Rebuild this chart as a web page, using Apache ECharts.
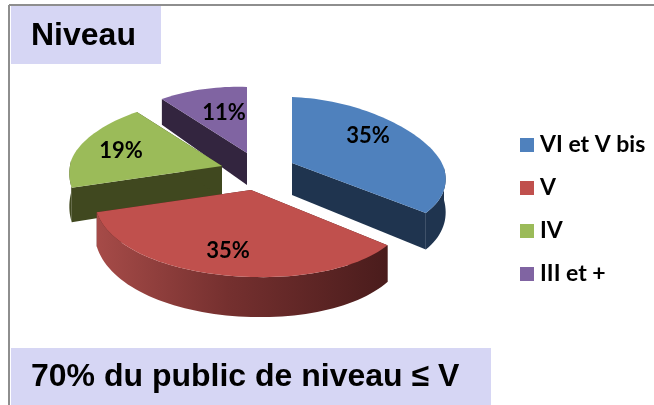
<!DOCTYPE html>
<html>
<head>
<meta charset="utf-8">
<title>Niveau</title>
<script src="https://cdn.jsdelivr.net/npm/echarts@6/dist/echarts.min.js"></script>
<style>
html,body{margin:0;padding:0;background:#fff;}
#main{width:654px;height:405px;}
</style>
</head>
<body>
<div id="main"></div>
<script>
// data
var categories = ['VI et V bis', 'V', 'IV', 'III et +'];
var values = [35, 35, 19, 11];
var headline = 'Niveau';
var conclusion = '70% du public de niveau \u2264 V';

// look of each slice, same order as categories
var topColors = ['#4F81BD', '#C0504D', '#9BBB59', '#8064A2'];
var sideColors = ['#1F344F', '#4D1E1D', '#40481F', '#33253F'];
var paintOrder = [3, 4, 2, 1];
var apexes = [[292, 163], [251, 190], [222, 166], [247, 153]]; // exploded slice tips
var labelShift = [[76, -27], [-23, 61], [-101, -15], [-23, -40]];
var rx = [152, 155, 151, 151];
var ryFront = [78, 87, 86, 86];

// fake 3d projection
var ryBack = 66, persp = 0.15, tilt = 5, depth = 32;
var labelFont = 'bold 22px Lato';

var total = values.reduce(function(a, b) { return a + b; }, 0);
var starts = [];
values.reduce(function(sum, v, i) { starts[i] = sum; return sum + v; }, 0);

function rim(idx, deg, lower) {
	var apex = apexes[idx];
	var t = deg * Math.PI / 180;
	var u = Math.sin(t), v = -Math.cos(t);
	var x = apex[0] + u * rx[idx] * (1 + persp * v);
	var y = apex[1] + v * (v > 0 ? ryFront[idx] : ryBack) + tilt * u;
	if (lower) y += depth * (1 + 0.25 * v);
	return [x, y];
}

function arcPoints(idx, from, to, lower) {
	var pts = [];
	var n = Math.max(2, Math.ceil(Math.abs(to - from) / 2));
	for (var i = 0; i <= n; i++) {
		pts.push(rim(idx, from + (to - from) * i / n, lower));
	}
	return pts;
}

function makeRender(idx) {
	return function(params, api) {
		var from = starts[idx] / total * 360;
		var to = from + api.value(0) / total * 360;
		var apex = apexes[idx];
		var apexLow = [apex[0], apex[1] + depth];
		var side = {fill: sideColors[idx]};
		var kids = [];
		// radial cuts
		[from, to].forEach(function(deg) {
			kids.push({type: 'polygon', shape: {points: [apex, rim(idx, deg), rim(idx, deg, true), apexLow]}, style: side});
		});
		// outer wall, only the front half shows
		var a = Math.max(from, 90), b = Math.min(to, 270);
		if (b > a) {
			var wall = arcPoints(idx, a, b).concat(arcPoints(idx, b, a, true));
			var wallStyle = idx == 1 ? {fill: new echarts.graphic.LinearGradient(1, 0, 0, 0, [
				{offset: 0, color: '#4A1C1C'},
				{offset: 0.55, color: '#75302F'},
				{offset: 1, color: '#A64B48'}
			])} : side;
			kids.push({type: 'polygon', shape: {points: wall}, style: wallStyle});
		}
		kids.push({type: 'polygon', shape: {points: [apex].concat(arcPoints(idx, from, to))}, style: {fill: topColors[idx]}});
		kids.push({type: 'text', style: {
			text: Math.round(api.value(0)) + '%',
			x: apex[0] + labelShift[idx][0], y: apex[1] + labelShift[idx][1],
			font: labelFont, fill: '#000', align: 'center', verticalAlign: 'middle'
		}});
		return {type: 'group', children: kids};
	};
}

var seriesList = categories.map(function(name, i) {
	return {
		name: name,
		type: 'custom',
		coordinateSystem: 'none',
		z: paintOrder[i],
		itemStyle: {color: topColors[i]},
		data: [[values[i]]],
		renderItem: makeRender(i)
	};
});

function banner(x, y, w, h, text) {
	return {
		type: 'group',
		children: [
			{type: 'rect', shape: {x: x, y: y, width: w, height: h}, style: {fill: '#D6D6F4'}},
			{type: 'text', style: {x: x + 20, y: y + h / 2 + 1, text: text, font: 'bold 32px "Liberation Sans"', fill: '#000', verticalAlign: 'middle'}}
		]
	};
}

var option = {
	animation: false,
	backgroundColor: '#fff',
	legend: {
		orient: 'vertical',
		left: 515,
		top: 127,
		itemWidth: 14,
		itemHeight: 14,
		itemGap: 17,
		selectedMode: false,
		icon: 'rect',
		data: categories,
		textStyle: {fontFamily: 'Lato', fontWeight: 'bold', fontSize: 23, color: '#000', padding: [0, 0, 0, 1], lineHeight: 26}
	},
	graphic: [
		{type: 'line', shape: {x1: 9, y1: 5, x2: 654, y2: 5}, style: {stroke: '#8E8E8E', lineWidth: 2}},
		{type: 'line', shape: {x1: 9, y1: 5, x2: 9, y2: 405}, style: {stroke: '#8E8E8E', lineWidth: 2}},
		banner(11, 6, 150, 58, headline),
		banner(11, 348, 480, 57, conclusion)
	],
	series: seriesList
};

var myChart = echarts.init(document.getElementById('main'));
myChart.setOption(option);
</script>
</body>
</html>
